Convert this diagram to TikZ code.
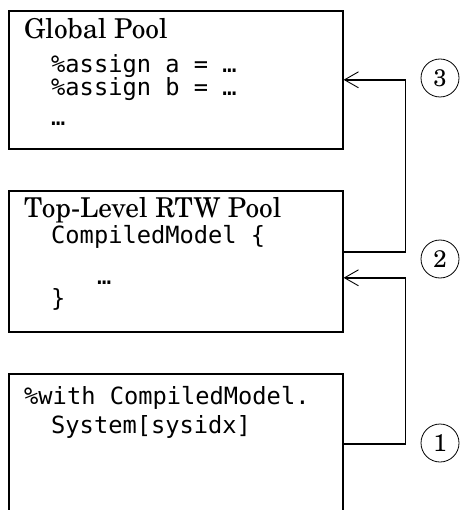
\documentclass[tikz,border=0pt]{standalone}
\usepackage{fontspec}
\newfontfamily\poolserif{TeX Gyre Schola}
\newfontfamily\poolmono{DejaVu Sans Mono}
\usetikzlibrary{arrows.meta}
\tikzset{poolbox/.style={draw, line width=1.6pt, anchor=north west, minimum width=334pt, inner sep=0pt}}
\tikzset{ttl/.style={anchor=base west, inner sep=0pt, font=\poolserif\fontsize{27.3}{30}\selectfont}}
\tikzset{code/.style={anchor=base west, inner sep=0pt, font=\poolmono\fontsize{23.7}{28}\selectfont}}
\tikzset{arr/.style={draw, line width=1.6pt, -{Straight Barb[length=14pt, width=16pt, line width=0.9pt]}}}
\tikzset{num/.style={draw, circle, line width=0.8pt, minimum size=38pt, inner sep=0pt, font=\poolserif\fontsize{24}{24}\selectfont}}

\begin{document}
\begin{tikzpicture}[x=1pt, y=-1pt]
	\useasboundingbox (0,0) rectangle (462,510);
	% the three pools
	\node[poolbox, minimum height=138pt] (glob) at (8,10) {};
	\node[poolbox, minimum height=141pt] (top) at (8,190) {};
	\node[poolbox, minimum height=140pt] (sys) at (8,373) {};
	%
	\node[ttl] (globname) at (24,39) {Global Pool};
	\node[code] (asga) at (51,73) {\%assign a = …};
	\node[code] (asgb) at (51,96) {\%assign b = …};
	\node[code] (globdots) at (51,126) {…};
	%
	\node[ttl] (topname) at (24,218) {Top-Level RTW Pool};
	\node[code] (cm) at (51,243) {CompiledModel \{};
	\node[code] (cmdots) at (97,284) {…};
	\node[code] (cmend) at (51,306) {\}};
	%
	\node[code] (with) at (24,404) {\%with CompiledModel.};
	\node[code] (sysidx) at (51,433) {System[sysidx]};
	% lookup order
	\node[num] (n3) at (440,78) {3};
	\node[num] (n2) at (440,259) {2};
	\node[num] (n1) at (440,443) {1};
	\draw[arr] (sys.east) -- ++(62,0) |- ([yshift=-16.5pt]top.east);
	\draw[arr] ([yshift=9.5pt]top.east) -- ++(62,0) |- (glob.east);
\end{tikzpicture}
\end{document}
